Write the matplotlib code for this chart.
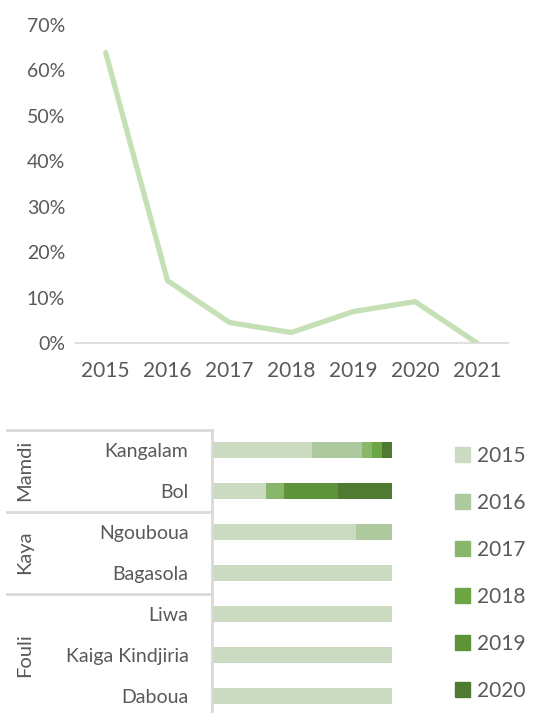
import matplotlib.pyplot as plt
from matplotlib.patches import Patch
from matplotlib.transforms import blended_transform_factory
import numpy as np

plt.rcParams['font.family'] = ['Lato', 'DejaVu Sans']

# top chart: share per year
years = ['2015', '2016', '2017', '2018', '2019', '2020', '2021']
share = [63.9, 13.7, 4.5, 2.3, 6.9, 9.1, 0.0]

# bottom chart: 100% stacked bars per site
sites = ['Kangalam', 'Bol', 'Ngouboua', 'Bagasola', 'Liwa', 'Kaiga Kindjiria', 'Daboua']
groups = ['Mamdi', 'Kaya', 'Fouli']
group_rows = [(0, 1), (2, 3), (4, 6)]
stack_years = ['2015', '2016', '2017', '2018', '2019', '2020']
v2015 = [55.6, 30, 80, 100, 100, 100, 100]
v2016 = [27.8, 0, 20, 0, 0, 0, 0]
v2017 = [5.6, 10, 0, 0, 0, 0, 0]
v2018 = [5.6, 0, 0, 0, 0, 0, 0]
v2019 = [0, 30, 0, 0, 0, 0, 0]
v2020 = [5.4, 30, 0, 0, 0, 0, 0]
colors = ['#cadbc1', '#adc99d', '#88b76b', '#6ba643', '#5e9339', '#4e7b31']

txt = '#595959'
grid = '#d9d9d9'

fig = plt.figure(figsize=(5.34, 7.13), dpi=100)

# ---- line chart
ax1 = fig.add_axes([0.140, 0.519, 0.811, 0.446])
x = np.arange(len(years))
ax1.plot(x, share, color='#c5e0b4', lw=3.8, solid_capstyle='round')
ax1.set_xlim(-0.5, len(years) - 0.5)
ax1.set_ylim(0, 70)
ax1.set_yticks(range(0, 71, 10))
ax1.set_yticklabels([f'{v}%' for v in range(0, 71, 10)], fontsize=14, color=txt)
ax1.set_xticks(x)
ax1.set_xticklabels(years, fontsize=15, color=txt)
ax1.tick_params(length=0, pad=13)
ax1.tick_params(axis='y', pad=7)
for s in ['top', 'right', 'left']:
    ax1.spines[s].set_visible(False)
ax1.spines['bottom'].set_color(grid)
ax1.spines['bottom'].set_linewidth(1.2)

# ---- stacked bars
ax2 = fig.add_axes([0.397, -0.0049, 0.337, 0.4025])
y = np.arange(len(sites))
left = np.zeros(len(sites))
for vals, c in zip([v2015, v2016, v2017, v2018, v2019, v2020], colors):
    ax2.barh(y, vals, left=left, height=0.39, color=c)
    left += np.array(vals)
ax2.set_xlim(0, 100)
ax2.set_ylim(len(sites) - 0.5, -0.5)
ax2.set_xticks([])
ax2.set_yticks(y)
ax2.set_yticklabels(sites, fontsize=14, color=txt)
ax2.tick_params(length=0, pad=17)
for s in ['top', 'right', 'bottom']:
    ax2.spines[s].set_visible(False)
ax2.spines['left'].set_color(grid)
ax2.spines['left'].set_linewidth(2)

# group separators and labels
tr = blended_transform_factory(fig.transFigure, ax2.transData)
x0, x1 = 7 / 534, 0.397
for yy in [-0.5, 1.5, 3.5]:
    fig.add_artist(plt.Line2D([x0, x1], [yy, yy], transform=tr, color=grid, lw=2))
for g, (a, b) in zip(groups, group_rows):
    fig.text(25 / 534, (a + b) / 2, g, transform=tr, rotation=90, ha='center',
             va='center', fontsize=14.5, color=txt)

handles = [Patch(color=c) for c in colors]
fig.legend(handles, stack_years, loc='upper left', bbox_to_anchor=(0.852, 0.375),
           frameon=False, fontsize=15, labelcolor=txt, handlelength=0.7,
           handleheight=0.7, handletextpad=0.35, labelspacing=1.3,
           borderpad=0, borderaxespad=0)

fig.savefig('out.png', dpi=100)
